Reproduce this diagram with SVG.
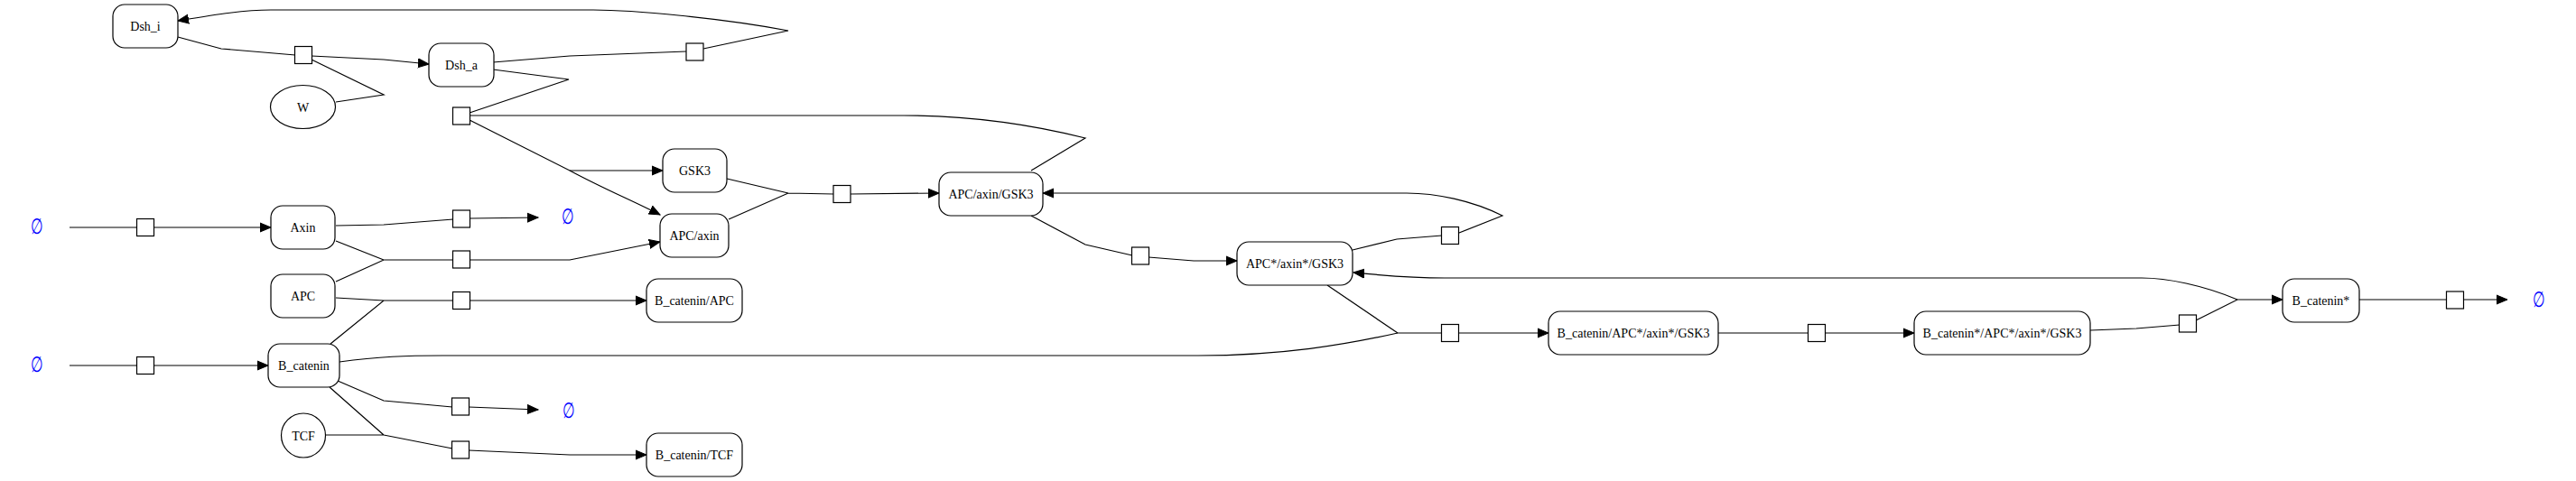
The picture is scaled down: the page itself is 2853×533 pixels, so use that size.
<svg xmlns="http://www.w3.org/2000/svg" width="2853" height="533" viewBox="0 0 2853 533">
<style>
.n{fill:#fff;stroke:#000;stroke-width:1.2}
.t{font-family:"Liberation Serif","Times New Roman",serif;font-size:14px;fill:#000;text-anchor:middle}
.e{font-family:"Liberation Serif","DejaVu Serif",serif;font-size:24px;fill:#0000ff;text-anchor:middle}
.p{fill:#fff;stroke:#000;stroke-width:1.2}
.c{fill:none;stroke:#000;stroke-width:1.2}
.a{marker-end:url(#arr)}
</style>
<defs>
<marker id="arr" markerUnits="userSpaceOnUse" markerWidth="14" markerHeight="12" refX="12" refY="5" orient="auto" viewBox="0 0 14 10">
<path d="M0,0 L12,5 L0,10 Z" fill="#000" stroke="#000" stroke-width="1"/>
</marker>
</defs>
<rect width="2853" height="533" fill="#fff"/>
<g id="connectors">
<path class="c" d="M197,41 L245,54 L327,61"/>
<path class="c a" d="M345,62 L425,66 L475,71"/>
<path class="c" d="M372,113 L425,105 L345,66"/>
<path class="c" d="M546,69 L631,62 L760,57"/>
<path class="c a" d="M779,54 L873,34 C800,20 700,11 657,11 L300,11 C270,11 240,16 197,23"/>
<path class="c" d="M546,77 L630,88 L520,125"/>
<path class="c" d="M520,128 L1001,128 C1080,128 1150,140 1202,153 L1142,189"/>
<path class="c a" d="M520,133 L631,189 L734,189"/>
<path class="c a" d="M631,189 C670,210 700,222 731,238"/>
<path class="c" d="M805,198 L873,214 M807,243 L873,214 L923,215"/>
<path class="c a" d="M942,215 L1040,214"/>
<path class="c" d="M77,252 L152,252"/>
<path class="c a" d="M170,252 L300,252"/>
<path class="c" d="M372,250 L425,249 L502,243"/>
<path class="c a" d="M520,242 L596,241"/>
<path class="c" d="M372,267 L425,288 M372,312 L425,288 L502,288"/>
<path class="c a" d="M520,288 L631,288 L731,268"/>
<path class="c" d="M372,330 L425,333 M366,381 L425,333 L502,333"/>
<path class="c a" d="M520,333 L716,333"/>
<path class="c" d="M77,405 L152,405"/>
<path class="c a" d="M170,405 L297,405"/>
<path class="c" d="M374,422 L425,444 L501,451"/>
<path class="c a" d="M519,451 L596,454"/>
<path class="c" d="M365,429 L425,482 M360,482 L425,482 L501,497"/>
<path class="c a" d="M519,499 L631,504 L716,504"/>
<path class="c" d="M1142,239 L1202,271 L1254,283"/>
<path class="c a" d="M1272,285 L1322,289 L1370,289"/>
<path class="c" d="M1498,277 L1547,265 L1597,261"/>
<path class="c a" d="M1616,258 L1664,239 C1630,222 1590,214 1558,214 L1155,214"/>
<path class="c" d="M1470,316 L1548,369"/>
<path class="c" d="M376,401 C420,395 450,394 490,394 L1327,394 C1420,394 1490,382 1548,369 L1597,369"/>
<path class="c a" d="M1616,369 L1715,369"/>
<path class="c" d="M1903,369 L2002,369"/>
<path class="c a" d="M2022,369 L2120,369"/>
<path class="c" d="M2315,366 L2366,364 L2414,360"/>
<path class="c a" d="M2432,355 L2478,332 L2528,332"/>
<path class="c a" d="M2478,332 C2440,316 2400,308 2372,308 L1600,308 C1560,308 1530,305 1499,302"/>
<path class="c" d="M2613,332 L2710,332"/>
<path class="c a" d="M2728,332 L2777,332"/>
</g>
<g id="reactions">
<rect id="r1" class="p" x="326.5" y="51.5" width="19" height="19"/>
<rect id="r2" class="p" x="760" y="48" width="19" height="19"/>
<rect id="r3" class="p" x="501.5" y="119" width="19" height="19"/>
<rect id="r4" class="p" x="923" y="205.5" width="19" height="19"/>
<rect id="r5" class="p" x="151.5" y="242.5" width="19" height="19"/>
<rect id="r6" class="p" x="501.5" y="233" width="19" height="19"/>
<rect id="r7" class="p" x="501.5" y="278" width="19" height="19"/>
<rect id="r8" class="p" x="501.5" y="323.5" width="19" height="19"/>
<rect id="r9" class="p" x="151.5" y="395.5" width="19" height="19"/>
<rect id="r10" class="p" x="500.5" y="441" width="19" height="19"/>
<rect id="r11" class="p" x="500.5" y="489" width="19" height="19"/>
<rect id="r12" class="p" x="1253.5" y="274" width="19" height="19"/>
<rect id="r13" class="p" x="1596.5" y="251.5" width="19" height="19"/>
<rect id="r14" class="p" x="1596.5" y="359.5" width="19" height="19"/>
<rect id="r15" class="p" x="2002.5" y="359.5" width="19" height="19"/>
<rect id="r16" class="p" x="2413.5" y="349" width="19" height="19"/>
<rect id="r17" class="p" x="2709.5" y="323" width="19" height="19"/>
</g>
<g id="Dsh_i"><rect class="n" x="125" y="5" width="72" height="48" rx="13"/><text class="t" x="161" y="34">Dsh_i</text></g>
<g id="Dsh_a"><rect class="n" x="475" y="48" width="72" height="48" rx="13"/><text class="t" x="511" y="77">Dsh_a</text></g>
<g id="W"><ellipse class="n" cx="335.5" cy="118.5" rx="36" ry="24"/><text class="t" x="335.5" y="123.5">W</text></g>
<g id="GSK3"><rect class="n" x="734" y="165" width="71" height="48" rx="13"/><text class="t" x="769.5" y="194">GSK3</text></g>
<g id="APC_axin"><rect class="n" x="731" y="237" width="76" height="48" rx="13"/><text class="t" x="769" y="266">APC/axin</text></g>
<g id="Axin"><rect class="n" x="300" y="228" width="71" height="48" rx="13"/><text class="t" x="335.5" y="257">Axin</text></g>
<g id="APC"><rect class="n" x="300" y="304" width="71" height="48" rx="13"/><text class="t" x="335.5" y="333">APC</text></g>
<g id="B_catenin_APC"><rect class="n" x="716" y="309" width="106" height="48" rx="13"/><text class="t" x="769" y="338">B_catenin/APC</text></g>
<g id="B_catenin"><rect class="n" x="297" y="381" width="79" height="48" rx="13"/><text class="t" x="336.5" y="410">B_catenin</text></g>
<g id="TCF"><ellipse class="n" cx="336" cy="482.5" rx="24.5" ry="24.5"/><text class="t" x="336" y="487.5">TCF</text></g>
<g id="B_catenin_TCF"><rect class="n" x="716" y="480" width="106" height="48" rx="13"/><text class="t" x="769" y="509">B_catenin/TCF</text></g>
<g id="APC_axin_GSK3"><rect class="n" x="1040" y="191" width="115" height="48" rx="13"/><text class="t" x="1097.5" y="220">APC/axin/GSK3</text></g>
<g id="APCs_axins_GSK3"><rect class="n" x="1370" y="268" width="128" height="48" rx="13"/><text class="t" x="1434" y="297">APC*/axin*/GSK3</text></g>
<g id="B_catenin_APCs_axins_GSK3"><rect class="n" x="1715" y="345" width="188" height="48" rx="13"/><text class="t" x="1809" y="374">B_catenin/APC*/axin*/GSK3</text></g>
<g id="B_catenins_APCs_axins_GSK3"><rect class="n" x="2120" y="345" width="195" height="48" rx="13"/><text class="t" x="2217.5" y="374">B_catenin*/APC*/axin*/GSK3</text></g>
<g id="B_catenins"><rect class="n" x="2528" y="309" width="85" height="48" rx="13"/><text class="t" x="2570.5" y="338">B_catenin*</text></g>
<g id="empty1"><text class="e" transform="translate(40.5,250.5) scale(0.65,1)" y="8">∅</text></g>
<g id="empty2"><text class="e" transform="translate(40.5,404) scale(0.65,1)" y="8">∅</text></g>
<g id="empty3"><text class="e" transform="translate(629,239.5) scale(0.65,1)" y="8">∅</text></g>
<g id="empty4"><text class="e" transform="translate(630,455) scale(0.65,1)" y="8">∅</text></g>
<g id="empty5"><text class="e" transform="translate(2812,332) scale(0.65,1)" y="8">∅</text></g>
</svg>
